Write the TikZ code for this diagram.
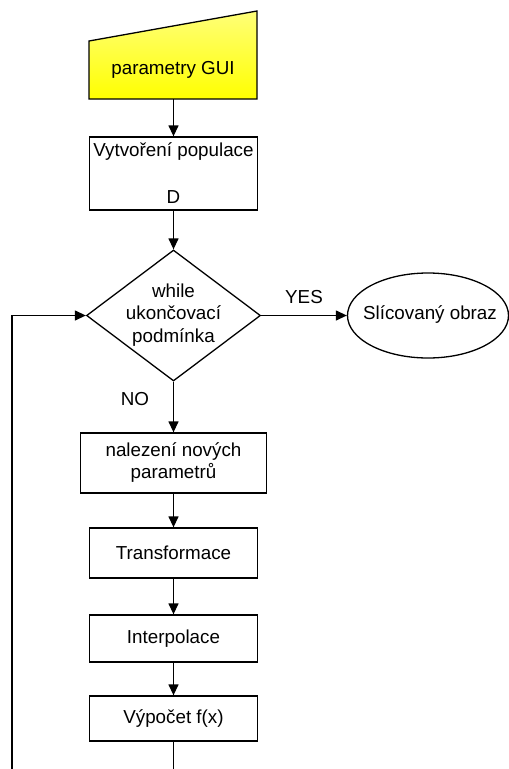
\documentclass[tikz,border=0pt]{standalone}
\usepackage{fontspec}
\setmainfont{Liberation Sans}
\usetikzlibrary{arrows.meta,shapes.geometric}
\definecolor{paleyellow}{RGB}{255,255,120}
\begin{document}
\begin{tikzpicture}[x=1pt,y=-1pt,
  every node/.style={font=\fontsize{18.8}{22}\selectfont,inner sep=0pt},
  line/.style={line width=1.3pt,draw=black},
  flow/.style={line, -{Triangle[length=11pt,width=10pt]}},
  stepbox/.style={line, draw, rectangle, align=center}]
\useasboundingbox (0,0) rectangle (509,769);

% manual input: parameters from the GUI
\draw[line, top color=paleyellow, bottom color=yellow]
  (89,41) -- (257,11) -- (257,99) -- (89,99) -- cycle;
\node (gui) at (173,70) {parametry GUI};
\coordinate (guib) at (173.5,99);

% initial population
\node[stepbox, minimum width=168pt, minimum height=73pt] (pop) at (173.5,173.5) {};
\node (poptxt) at (173.5,152) {Vytvoření populace};
\node (popd) at (173.5,197) {D};

% loop condition
\node[line, draw, diamond, aspect=1.33, minimum width=174pt, minimum height=131pt] (cond) at (173.5,315.5) {};
\node[align=center, font=\fontsize{18.8}{22.5}\selectfont] (condtxt) at (173.5,315) {while\\ukončovací\\podmínka};

% result
\node[line, draw, ellipse, minimum width=161pt, minimum height=85pt] (res) at (428,315.5) {};
\node (restxt) at (430,315) {Slícovaný obraz};

% loop body
\node[stepbox, minimum width=186pt, minimum height=60pt] (find) at (173.5,463) {nalezení nových\\parametrů};
\node[stepbox, minimum width=168pt, minimum height=50pt] (trans) at (173.5,553) {Transformace};
\node[stepbox, minimum width=168pt, minimum height=47pt] (interp) at (173.5,638.5) {Interpolace};
\node[stepbox, minimum width=168pt, minimum height=45pt] (eval) at (173.5,718.5) {Výpočet f(x)};

% connectors
\draw[flow] (guib) -- (pop.north);
\draw[flow] (pop.south) -- (cond.north);
\draw[flow] (cond.east) -- node[above=11pt] (yes) {YES} (res.west);
\draw[flow] (cond.south) -- (find.north);
\node (no) at (135,399) {NO};
\draw[flow] (find.south) -- (trans.north);
\draw[flow] (trans.south) -- (interp.north);
\draw[flow] (interp.south) -- (eval.north);

% loop back towards the condition (continues below the visible area)
\coordinate (evalout) at (173.5,769);
\coordinate (backbot) at (12,769);
\draw[line] (eval.south) -- (evalout);
\draw[flow] (backbot) -- (backbot |- cond.west) -- (cond.west);
\end{tikzpicture}
\end{document}
